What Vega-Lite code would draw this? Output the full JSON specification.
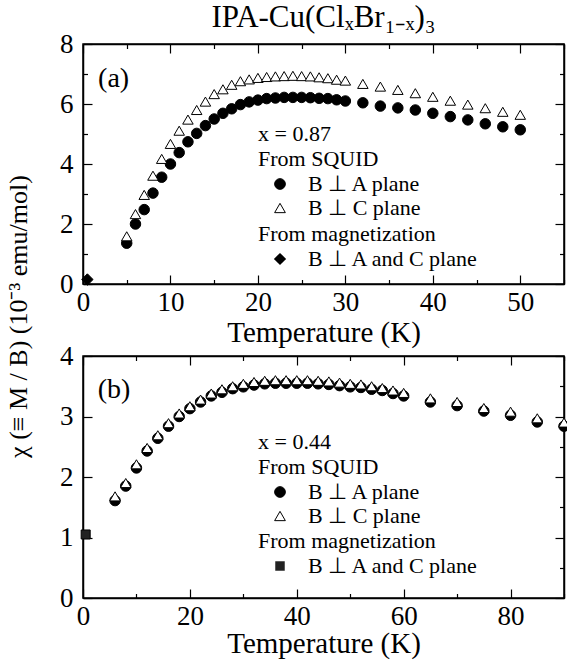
{
  "$schema": "https://vega.github.io/schema/vega-lite/v6.json",
  "padding": {"left": 4, "top": 2, "right": 5, "bottom": 5},
  "bounds": "flush",
  "spacing": 72,
  "title": {"text": "IPA-Cu(ClₓBr₁₋ₓ)₃", "font": "Liberation Serif", "fontSize": 31, "fontWeight": "normal", "color": "black", "anchor": "middle", "frame": "group", "offset": -5},
  "config": {
    "font": "Liberation Serif",
    "view": {"stroke": "black", "strokeWidth": 1.5},
    "style": {"guide-label": {"font": "Liberation Serif"}, "guide-title": {"font": "Liberation Serif", "fontWeight": "normal"}},
    "axis": {"labelFont": "Liberation Serif", "labelFontSize": 27, "labelColor": "black", "titleFont": "Liberation Serif", "titleFontSize": 29, "titleFontWeight": "normal", "titleColor": "black", "domainColor": "black", "domainWidth": 1.5, "tickColor": "black", "tickWidth": 1.2, "grid": false, "labelFlush": false, "labelOverlap": false},
    "legend": {"labelFont": "Liberation Serif", "labelFontSize": 22, "labelColor": "black", "labelLimit": 400, "titleFont": "Liberation Serif", "titleFontSize": 22, "titleFontWeight": "normal", "titleColor": "black", "titleLineHeight": 25, "titleLimit": 400, "orient": "none", "padding": 0, "rowPadding": 2, "titlePadding": 2, "symbolOffset": 11, "labelOffset": 17, "symbolStrokeColor": "black", "symbolStrokeWidth": 1, "symbolSize": 115, "labelBaseline": "middle"}
  },
  "datasets": {
    "a_squid": [
      {"T":5,"chi":1.36,"s":"B ⊥ A plane"},{"T":6,"chi":2.0,"s":"B ⊥ A plane"},{"T":7,"chi":2.48,"s":"B ⊥ A plane"},{"T":8,"chi":3.03,"s":"B ⊥ A plane"},{"T":9,"chi":3.56,"s":"B ⊥ A plane"},{"T":10,"chi":4.0,"s":"B ⊥ A plane"},{"T":11,"chi":4.38,"s":"B ⊥ A plane"},{"T":12,"chi":4.74,"s":"B ⊥ A plane"},{"T":13,"chi":5.02,"s":"B ⊥ A plane"},{"T":14,"chi":5.28,"s":"B ⊥ A plane"},{"T":15,"chi":5.5,"s":"B ⊥ A plane"},{"T":16,"chi":5.69,"s":"B ⊥ A plane"},{"T":17,"chi":5.84,"s":"B ⊥ A plane"},{"T":18,"chi":5.98,"s":"B ⊥ A plane"},{"T":19,"chi":6.07,"s":"B ⊥ A plane"},{"T":20,"chi":6.13,"s":"B ⊥ A plane"},{"T":21,"chi":6.18,"s":"B ⊥ A plane"},{"T":22,"chi":6.2,"s":"B ⊥ A plane"},{"T":23,"chi":6.22,"s":"B ⊥ A plane"},{"T":24,"chi":6.22,"s":"B ⊥ A plane"},{"T":25,"chi":6.22,"s":"B ⊥ A plane"},{"T":26,"chi":6.21,"s":"B ⊥ A plane"},{"T":27,"chi":6.19,"s":"B ⊥ A plane"},{"T":28,"chi":6.18,"s":"B ⊥ A plane"},{"T":29,"chi":6.14,"s":"B ⊥ A plane"},{"T":30,"chi":6.1,"s":"B ⊥ A plane"},{"T":32,"chi":6.04,"s":"B ⊥ A plane"},{"T":34,"chi":5.93,"s":"B ⊥ A plane"},{"T":36,"chi":5.87,"s":"B ⊥ A plane"},{"T":38,"chi":5.8,"s":"B ⊥ A plane"},{"T":40,"chi":5.69,"s":"B ⊥ A plane"},{"T":42,"chi":5.58,"s":"B ⊥ A plane"},{"T":44,"chi":5.47,"s":"B ⊥ A plane"},{"T":46,"chi":5.34,"s":"B ⊥ A plane"},{"T":48,"chi":5.24,"s":"B ⊥ A plane"},{"T":50,"chi":5.14,"s":"B ⊥ A plane"},
      {"T":5,"chi":1.59,"s":"B ⊥ C plane"},{"T":6,"chi":2.33,"s":"B ⊥ C plane"},{"T":7,"chi":2.97,"s":"B ⊥ C plane"},{"T":8,"chi":3.61,"s":"B ⊥ C plane"},{"T":9,"chi":4.17,"s":"B ⊥ C plane"},{"T":10,"chi":4.67,"s":"B ⊥ C plane"},{"T":11,"chi":5.11,"s":"B ⊥ C plane"},{"T":12,"chi":5.48,"s":"B ⊥ C plane"},{"T":13,"chi":5.8,"s":"B ⊥ C plane"},{"T":14,"chi":6.08,"s":"B ⊥ C plane"},{"T":15,"chi":6.33,"s":"B ⊥ C plane"},{"T":16,"chi":6.49,"s":"B ⊥ C plane"},{"T":17,"chi":6.64,"s":"B ⊥ C plane"},{"T":18,"chi":6.76,"s":"B ⊥ C plane"},{"T":19,"chi":6.82,"s":"B ⊥ C plane"},{"T":20,"chi":6.87,"s":"B ⊥ C plane"},{"T":21,"chi":6.9,"s":"B ⊥ C plane"},{"T":22,"chi":6.92,"s":"B ⊥ C plane"},{"T":23,"chi":6.93,"s":"B ⊥ C plane"},{"T":24,"chi":6.94,"s":"B ⊥ C plane"},{"T":25,"chi":6.93,"s":"B ⊥ C plane"},{"T":26,"chi":6.92,"s":"B ⊥ C plane"},{"T":27,"chi":6.89,"s":"B ⊥ C plane"},{"T":28,"chi":6.86,"s":"B ⊥ C plane"},{"T":29,"chi":6.81,"s":"B ⊥ C plane"},{"T":30,"chi":6.78,"s":"B ⊥ C plane"},{"T":32,"chi":6.67,"s":"B ⊥ C plane"},{"T":34,"chi":6.58,"s":"B ⊥ C plane"},{"T":36,"chi":6.47,"s":"B ⊥ C plane"},{"T":38,"chi":6.36,"s":"B ⊥ C plane"},{"T":40,"chi":6.24,"s":"B ⊥ C plane"},{"T":42,"chi":6.11,"s":"B ⊥ C plane"},{"T":44,"chi":5.98,"s":"B ⊥ C plane"},{"T":46,"chi":5.86,"s":"B ⊥ C plane"},{"T":48,"chi":5.74,"s":"B ⊥ C plane"},{"T":50,"chi":5.64,"s":"B ⊥ C plane"}
    ],
    "a_mag": [{"T":0.5,"chi":0.15,"s":"B ⊥ A and C plane"}],
    "b_squid": [
      {"T":6,"chi":1.61,"s":"B ⊥ A plane"},{"T":8,"chi":1.85,"s":"B ⊥ A plane"},{"T":10,"chi":2.15,"s":"B ⊥ A plane"},{"T":12,"chi":2.43,"s":"B ⊥ A plane"},{"T":14,"chi":2.64,"s":"B ⊥ A plane"},{"T":16,"chi":2.84,"s":"B ⊥ A plane"},{"T":18,"chi":3.0,"s":"B ⊥ A plane"},{"T":20,"chi":3.13,"s":"B ⊥ A plane"},{"T":22,"chi":3.24,"s":"B ⊥ A plane"},{"T":24,"chi":3.34,"s":"B ⊥ A plane"},{"T":26,"chi":3.4,"s":"B ⊥ A plane"},{"T":28,"chi":3.46,"s":"B ⊥ A plane"},{"T":30,"chi":3.49,"s":"B ⊥ A plane"},{"T":32,"chi":3.52,"s":"B ⊥ A plane"},{"T":34,"chi":3.54,"s":"B ⊥ A plane"},{"T":36,"chi":3.55,"s":"B ⊥ A plane"},{"T":38,"chi":3.55,"s":"B ⊥ A plane"},{"T":40,"chi":3.55,"s":"B ⊥ A plane"},{"T":42,"chi":3.55,"s":"B ⊥ A plane"},{"T":44,"chi":3.54,"s":"B ⊥ A plane"},{"T":46,"chi":3.53,"s":"B ⊥ A plane"},{"T":48,"chi":3.51,"s":"B ⊥ A plane"},{"T":50,"chi":3.49,"s":"B ⊥ A plane"},{"T":52,"chi":3.48,"s":"B ⊥ A plane"},{"T":54,"chi":3.45,"s":"B ⊥ A plane"},{"T":56,"chi":3.43,"s":"B ⊥ A plane"},{"T":58,"chi":3.38,"s":"B ⊥ A plane"},{"T":60,"chi":3.34,"s":"B ⊥ A plane"},{"T":65,"chi":3.24,"s":"B ⊥ A plane"},{"T":70,"chi":3.18,"s":"B ⊥ A plane"},{"T":75,"chi":3.09,"s":"B ⊥ A plane"},{"T":80,"chi":3.02,"s":"B ⊥ A plane"},{"T":85,"chi":2.91,"s":"B ⊥ A plane"},{"T":90,"chi":2.84,"s":"B ⊥ A plane"},
      {"T":6,"chi":1.68,"s":"B ⊥ C plane"},{"T":8,"chi":1.9,"s":"B ⊥ C plane"},{"T":10,"chi":2.21,"s":"B ⊥ C plane"},{"T":12,"chi":2.48,"s":"B ⊥ C plane"},{"T":14,"chi":2.69,"s":"B ⊥ C plane"},{"T":16,"chi":2.89,"s":"B ⊥ C plane"},{"T":18,"chi":3.05,"s":"B ⊥ C plane"},{"T":20,"chi":3.17,"s":"B ⊥ C plane"},{"T":22,"chi":3.28,"s":"B ⊥ C plane"},{"T":24,"chi":3.38,"s":"B ⊥ C plane"},{"T":26,"chi":3.45,"s":"B ⊥ C plane"},{"T":28,"chi":3.5,"s":"B ⊥ C plane"},{"T":30,"chi":3.54,"s":"B ⊥ C plane"},{"T":32,"chi":3.57,"s":"B ⊥ C plane"},{"T":34,"chi":3.59,"s":"B ⊥ C plane"},{"T":36,"chi":3.6,"s":"B ⊥ C plane"},{"T":38,"chi":3.6,"s":"B ⊥ C plane"},{"T":40,"chi":3.6,"s":"B ⊥ C plane"},{"T":42,"chi":3.6,"s":"B ⊥ C plane"},{"T":44,"chi":3.59,"s":"B ⊥ C plane"},{"T":46,"chi":3.58,"s":"B ⊥ C plane"},{"T":48,"chi":3.56,"s":"B ⊥ C plane"},{"T":50,"chi":3.54,"s":"B ⊥ C plane"},{"T":52,"chi":3.53,"s":"B ⊥ C plane"},{"T":54,"chi":3.5,"s":"B ⊥ C plane"},{"T":56,"chi":3.47,"s":"B ⊥ C plane"},{"T":58,"chi":3.43,"s":"B ⊥ C plane"},{"T":60,"chi":3.39,"s":"B ⊥ C plane"},{"T":65,"chi":3.3,"s":"B ⊥ C plane"},{"T":70,"chi":3.24,"s":"B ⊥ C plane"},{"T":75,"chi":3.14,"s":"B ⊥ C plane"},{"T":80,"chi":3.08,"s":"B ⊥ C plane"},{"T":85,"chi":2.97,"s":"B ⊥ C plane"},{"T":90,"chi":2.9,"s":"B ⊥ C plane"}
    ],
    "b_mag": [{"T":0.5,"chi":1.05,"s":"B ⊥ A and C plane"}]
  },
  "vconcat": [
    {
      "width": 481, "height": 240,
      "layer": [
        {
          "data": {"name": "a_squid"},
          "mark": {"type": "point", "filled": true, "strokeWidth": 1, "size": 110, "opacity": 1},
          "encoding": {
            "x": {"field": "T", "type": "quantitative", "scale": {"domain": [0, 55], "nice": false},
              "axis": {"orient": "bottom", "title": "Temperature (K)", "titleFont": "Liberation Serif", "labelFont": "Liberation Serif", "titleY": 57, "titleBaseline": "alphabetic", "values": [0,5,10,15,20,25,30,35,40,45,50,55], "labelExpr": "datum.value % 10 === 0 ? datum.label : ''", "tickSize": {"condition": {"test": "datum.value % 10 === 0", "value": -9}, "value": -4.5}, "labelPadding": 14}},
            "y": {"field": "chi", "type": "quantitative", "scale": {"domain": [0, 8], "nice": false},
              "axis": {"orient": "left", "title": "χ (≡ M / B) (10⁻³ emu/mol)", "titleFont": "Liberation Serif", "labelFont": "Liberation Serif", "titleFontSize": 26, "titleAngle": 270, "titleAlign": "center", "titleBaseline": "alphabetic", "titleX": -57, "titleY": 272, "values": [0,1,2,3,4,5,6,7,8], "labelExpr": "datum.value % 2 === 0 ? datum.label : ''", "tickSize": {"condition": {"test": "datum.value % 2 === 0", "value": -9}, "value": -4.5}, "labelPadding": 19}},
            "shape": {"field": "s", "type": "nominal", "scale": {"domain": ["B ⊥ A plane", "B ⊥ C plane"], "range": ["circle", "triangle-up"]},
              "legend": {"title": ["x = 0.87", "From SQUID"], "legendX": 175, "legendY": 80}},
            "fill": {"field": "s", "type": "nominal", "scale": {"domain": ["B ⊥ A plane", "B ⊥ C plane"], "range": ["black", "white"]},
              "legend": {"title": ["x = 0.87", "From SQUID"], "legendX": 175, "legendY": 80}},
            "stroke": {"field": "s", "type": "nominal", "scale": {"domain": ["B ⊥ A plane", "B ⊥ C plane"], "range": ["black", "black"]},
              "legend": {"title": ["x = 0.87", "From SQUID"], "legendX": 175, "legendY": 80}}
          }
        },
        {
          "data": {"name": "a_mag"},
          "mark": {"type": "point", "filled": true, "fill": "black", "stroke": "black", "strokeWidth": 1, "size": 130, "opacity": 1},
          "encoding": {
            "x": {"field": "T", "type": "quantitative", "axis": {"orient": "top", "labels": false, "title": null, "values": [0,5,10,15,20,25,30,35,40,45,50,55], "tickSize": {"condition": {"test": "datum.value % 10 === 0", "value": -9}, "value": -4.5}}},
            "y": {"field": "chi", "type": "quantitative", "axis": {"orient": "right", "labels": false, "title": null, "values": [0,1,2,3,4,5,6,7,8], "tickSize": {"condition": {"test": "datum.value % 2 === 0", "value": -9}, "value": -4.5}}},
            "shape": {"field": "s", "type": "nominal", "scale": {"domain": ["B ⊥ A and C plane"], "range": ["diamond"]},
              "legend": {"title": "From magnetization", "legendX": 175, "legendY": 180, "symbolFillColor": "black", "symbolSize": 150}}
          }
        },
        {
          "data": {"values": [{"lab": "(a)"}]},
          "mark": {"type": "text", "font": "Liberation Serif", "fontSize": 28, "color": "black", "align": "center", "baseline": "middle"},
          "encoding": {
            "x": {"datum": 3.5, "type": "quantitative", "axis": null},
            "y": {"datum": 6.85, "type": "quantitative", "axis": null},
            "text": {"field": "lab"}
          }
        }
      ],
      "resolve": {"scale": {"shape": "independent", "fill": "independent", "stroke": "independent"}, "axis": {"x": "independent", "y": "independent"}, "legend": {"shape": "independent"}}
    },
    {
      "width": 481, "height": 242,
      "layer": [
        {
          "data": {"name": "b_squid"},
          "mark": {"type": "point", "filled": true, "strokeWidth": 1, "size": 110, "opacity": 1},
          "encoding": {
            "x": {"field": "T", "type": "quantitative", "scale": {"domain": [0, 90], "nice": false},
              "axis": {"orient": "bottom", "title": "Temperature (K)", "titleFont": "Liberation Serif", "labelFont": "Liberation Serif", "titleY": 54, "titleBaseline": "alphabetic", "values": [0,10,20,30,40,50,60,70,80,90], "labelExpr": "datum.value % 20 === 0 ? datum.label : ''", "tickSize": {"condition": {"test": "datum.value % 20 === 0", "value": -9}, "value": -4.5}, "labelPadding": 14}},
            "y": {"field": "chi", "type": "quantitative", "scale": {"domain": [0, 4], "nice": false},
              "axis": {"orient": "left", "title": null, "labelFont": "Liberation Serif", "format": "d", "values": [0,0.5,1,1.5,2,2.5,3,3.5,4], "labelExpr": "datum.value % 1 === 0 ? datum.label : ''", "tickSize": {"condition": {"test": "datum.value % 1 === 0", "value": -9}, "value": -4.5}, "labelPadding": 19}},
            "shape": {"field": "s", "type": "nominal", "scale": {"domain": ["B ⊥ A plane", "B ⊥ C plane"], "range": ["circle", "triangle-up"]},
              "legend": {"title": ["x = 0.44", "From SQUID"], "legendX": 175, "legendY": 76}},
            "fill": {"field": "s", "type": "nominal", "scale": {"domain": ["B ⊥ A plane", "B ⊥ C plane"], "range": ["black", "white"]},
              "legend": {"title": ["x = 0.44", "From SQUID"], "legendX": 175, "legendY": 76}},
            "stroke": {"field": "s", "type": "nominal", "scale": {"domain": ["B ⊥ A plane", "B ⊥ C plane"], "range": ["black", "black"]},
              "legend": {"title": ["x = 0.44", "From SQUID"], "legendX": 175, "legendY": 76}}
          }
        },
        {
          "data": {"name": "b_mag"},
          "mark": {"type": "point", "filled": true, "fill": "#222222", "stroke": "black", "strokeWidth": 1, "size": 81, "opacity": 1},
          "encoding": {
            "x": {"field": "T", "type": "quantitative", "axis": {"orient": "top", "labels": false, "title": null, "values": [0,10,20,30,40,50,60,70,80,90], "tickSize": {"condition": {"test": "datum.value % 20 === 0", "value": -9}, "value": -4.5}}},
            "y": {"field": "chi", "type": "quantitative", "axis": {"orient": "right", "labels": false, "title": null, "values": [0,0.5,1,1.5,2,2.5,3,3.5,4], "tickSize": {"condition": {"test": "datum.value % 1 === 0", "value": -9}, "value": -4.5}}},
            "shape": {"field": "s", "type": "nominal", "scale": {"domain": ["B ⊥ A and C plane"], "range": ["square"]},
              "legend": {"title": "From magnetization", "legendX": 175, "legendY": 175, "symbolFillColor": "#222222", "symbolSize": 90}}
          }
        },
        {
          "data": {"values": [{"lab": "(b)"}]},
          "mark": {"type": "text", "font": "Liberation Serif", "fontSize": 28, "color": "black", "align": "center", "baseline": "middle"},
          "encoding": {
            "x": {"datum": 5.8, "type": "quantitative", "axis": null},
            "y": {"datum": 3.44, "type": "quantitative", "axis": null},
            "text": {"field": "lab"}
          }
        }
      ],
      "resolve": {"scale": {"shape": "independent", "fill": "independent", "stroke": "independent"}, "axis": {"x": "independent", "y": "independent"}, "legend": {"shape": "independent"}}
    }
  ]
}
